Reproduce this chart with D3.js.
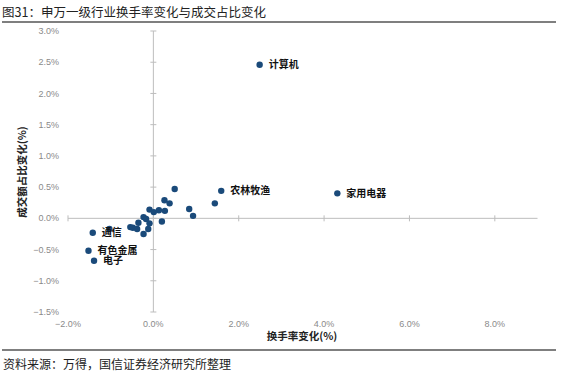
<!DOCTYPE html>
<html>
<head>
<meta charset="utf-8">
<script src="https://cdn.jsdelivr.net/npm/d3@7"></script>
<style>
  body { margin: 0; background: #fff; }
  svg { display: block; }
</style>
</head>
<body>
<svg id="chart" width="563" height="373"></svg>
<script>
// Data: turnover change (%) vs trading share change (%)
var names = ['计算机', '农林牧渔', '家用电器', '通信', '有色金属', '电子',
  '', '', '', '', '', '', '', '', '', '', '', '', '', '', '', '', '', '', '', '', '']
var turnover = [2.49, 1.59, 4.31, -1.42, -1.52, -1.39,
  0.50, 0.26, 0.38, 1.44, 0.84, 0.93, -0.09, 0.01, 0.13, 0.27, 0.20,
  -0.23, -0.17, -0.09, -0.35, -0.12, -0.23, -0.54, -0.48, -0.38, -1.03]
var share = [2.46, 0.44, 0.40, -0.23, -0.52, -0.68,
  0.47, 0.29, 0.24, 0.24, 0.15, 0.04, 0.14, 0.10, 0.13, 0.12, -0.05,
  0.02, -0.01, -0.08, -0.07, -0.17, -0.25, -0.14, -0.15, -0.17, -0.17]
var xTicks = [-2, 0, 2, 4, 6, 8]
var yTicks = [3, 2.5, 2, 1.5, 1, 0.5, 0, -0.5, -1, -1.5]

var points = names.map((n, i) => ({name: n, x: turnover[i], y: share[i]}))

var svg = d3.select('#chart')
var cjk = '"Noto Sans CJK SC", "Noto Sans", sans-serif'

// Title and frame lines
svg.append('text')
  .attr('x', 2).attr('y', 17)
  .text('图31：申万一级行业换手率变化与成交占比变化')
  .style('font-family', cjk).style('font-size', '12.5px')
  .attr('fill', '#222')
svg.append('line').attr('x1', 2).attr('x2', 556).attr('y1', 22).attr('y2', 22)
  .attr('stroke', '#555').attr('stroke-width', 1.5)
svg.append('line').attr('x1', 2).attr('x2', 556).attr('y1', 350).attr('y2', 350)
  .attr('stroke', '#555').attr('stroke-width', 1.5)
svg.append('text')
  .attr('x', 3).attr('y', 369)
  .text('资料来源：万得，国信证券经济研究所整理')
  .style('font-family', cjk).style('font-size', '12px').attr('fill', '#222')

// Scales
var x = d3.scaleLinear().domain([-2, 9]).range([68, 537.5])
var y = d3.scaleLinear().domain([-1.5, 3]).range([312, 31])

var fmt = d => d3.format('.1f')(d) + '%'

// Axis lines through zero
svg.append('line').attr('x1', x(-2)).attr('x2', x(9)).attr('y1', y(0)).attr('y2', y(0))
  .attr('stroke', '#bdbdbd').attr('stroke-width', 1)
svg.append('line').attr('x1', x(0)).attr('x2', x(0)).attr('y1', y(3)).attr('y2', y(-1.5))
  .attr('stroke', '#bdbdbd').attr('stroke-width', 1)

// Tick marks
svg.selectAll('.xtick').data(xTicks).join('line')
  .attr('x1', d => x(d)).attr('x2', d => x(d))
  .attr('y1', y(0) - 3).attr('y2', y(0) + 3)
  .attr('stroke', '#bdbdbd')
svg.selectAll('.ytick').data(yTicks).join('line')
  .attr('x1', x(0) - 3).attr('x2', x(0) + 3)
  .attr('y1', d => y(d)).attr('y2', d => y(d))
  .attr('stroke', '#bdbdbd')

// Tick labels (placed low, Excel style)
svg.selectAll('.xlab').data(xTicks).join('text')
  .attr('x', d => x(d)).attr('y', 327)
  .attr('text-anchor', 'middle')
  .text(fmt)
  .style('font-family', 'Arial, "Liberation Sans", sans-serif').style('font-size', '9px')
  .attr('fill', '#8a8a8a')
svg.selectAll('.ylab').data(yTicks).join('text')
  .attr('x', 59).attr('y', d => y(d)).attr('dy', '0.35em')
  .attr('text-anchor', 'end')
  .text(fmt)
  .style('font-family', 'Arial, "Liberation Sans", sans-serif').style('font-size', '9px')
  .attr('fill', '#8a8a8a')

// Axis titles
svg.append('text')
  .attr('x', 302).attr('y', 340).attr('text-anchor', 'middle')
  .text('换手率变化(%)')
  .style('font-family', cjk).style('font-size', '10.5px').style('font-weight', 'bold')
  .attr('fill', '#222')
svg.append('text')
  .attr('transform', 'translate(26,172) rotate(-90)')
  .attr('text-anchor', 'middle')
  .text('成交额占比变化(%)')
  .style('font-family', cjk).style('font-size', '10.5px').style('font-weight', 'bold')
  .attr('fill', '#222')

// Points
svg.selectAll('circle').data(points).join('circle')
  .attr('cx', d => x(d.x)).attr('cy', d => y(d.y))
  .attr('r', 3.2)
  .attr('fill', '#1a4a7a')

// Labels
svg.selectAll('.plab').data(points.filter(d => d.name != '')).join('text')
  .attr('x', d => x(d.x) + 9).attr('y', d => y(d.y)).attr('dy', '0.35em')
  .text(d => d.name)
  .style('font-family', cjk).style('font-size', '10px').style('font-weight', 'bold')
  .attr('fill', '#111')
</script>
</body>
</html>
